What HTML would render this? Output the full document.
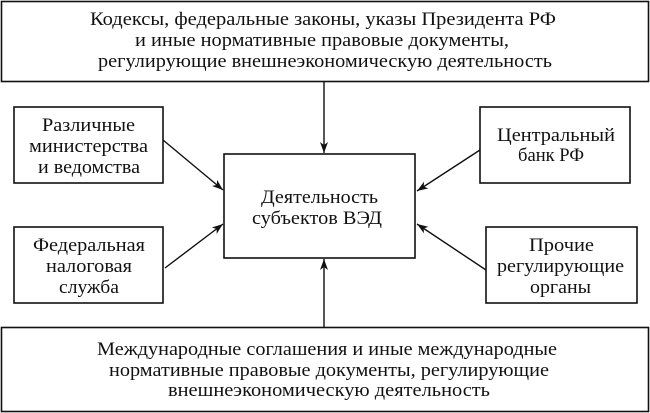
<!DOCTYPE html>
<html><head><meta charset="utf-8"><style>
html,body{margin:0;padding:0;background:#fff;}
svg{display:block}
text{font-family:"Liberation Serif","Times New Roman",serif;font-size:19px;fill:#111;}
</style></head><body>
<svg width="650" height="413" viewBox="0 0 650 413">
<defs>
<marker id="a" markerWidth="12" markerHeight="10" refX="11" refY="5" orient="auto" markerUnits="userSpaceOnUse">
<path d="M0,1 L11,5 L0,9 L3,5 Z" fill="#111"/>
</marker>
</defs>
<g fill="none" stroke="#111" stroke-width="1.6">
<rect x="1.5" y="1.5" width="647" height="80"/>
<rect x="1.5" y="327.5" width="647" height="84"/>
<rect x="14" y="107" width="149" height="76"/>
<rect x="14" y="227" width="149" height="76"/>
<rect x="480" y="107" width="150" height="76"/>
<rect x="486" y="227" width="151" height="76"/>
<rect x="224" y="154" width="191" height="104"/>
</g>
<g stroke="#111" stroke-width="1.4" marker-end="url(#a)">
<line x1="324" y1="82" x2="324" y2="153"/>
<line x1="324" y1="327" x2="324" y2="259"/>
<line x1="163" y1="140" x2="223" y2="190"/>
<line x1="165" y1="268" x2="223" y2="224"/>
<line x1="480" y1="150" x2="417" y2="191"/>
<line x1="486" y1="270" x2="417" y2="224"/>
</g>
<text x="90" y="25" textLength="466" lengthAdjust="spacingAndGlyphs">Кодексы, федеральные законы, указы Президента РФ</text>
<text x="135" y="46" textLength="374" lengthAdjust="spacingAndGlyphs">и иные нормативные правовые документы,</text>
<text x="98" y="67" textLength="454" lengthAdjust="spacingAndGlyphs">регулирующие внешнеэкономическую деятельность</text>

<text x="42" y="131" textLength="93" lengthAdjust="spacingAndGlyphs">Различные</text>
<text x="29" y="152" textLength="119" lengthAdjust="spacingAndGlyphs">министерства</text>
<text x="38" y="173" textLength="102" lengthAdjust="spacingAndGlyphs">и ведомства</text>

<text x="33" y="251" textLength="112" lengthAdjust="spacingAndGlyphs">Федеральная</text>
<text x="46" y="272" textLength="86" lengthAdjust="spacingAndGlyphs">налоговая</text>
<text x="59" y="293" textLength="60" lengthAdjust="spacingAndGlyphs">служба</text>

<text x="261" y="203" textLength="117" lengthAdjust="spacingAndGlyphs">Деятельность</text>
<text x="252" y="224" textLength="130" lengthAdjust="spacingAndGlyphs">субъектов ВЭД</text>

<text x="497" y="141" textLength="118" lengthAdjust="spacingAndGlyphs">Центральный</text>
<text x="518" y="161" textLength="66" lengthAdjust="spacingAndGlyphs">банк РФ</text>

<text x="529" y="251" textLength="65" lengthAdjust="spacingAndGlyphs">Прочие</text>
<text x="497" y="272" textLength="127" lengthAdjust="spacingAndGlyphs">регулирующие</text>
<text x="530" y="293" textLength="61" lengthAdjust="spacingAndGlyphs">органы</text>

<text x="97" y="355" textLength="460" lengthAdjust="spacingAndGlyphs">Международные соглашения и иные международные</text>
<text x="109" y="376" textLength="440" lengthAdjust="spacingAndGlyphs">нормативные правовые документы, регулирующие</text>
<text x="168" y="396" textLength="322" lengthAdjust="spacingAndGlyphs">внешнеэкономическую деятельность</text>
</svg>
</body></html>
